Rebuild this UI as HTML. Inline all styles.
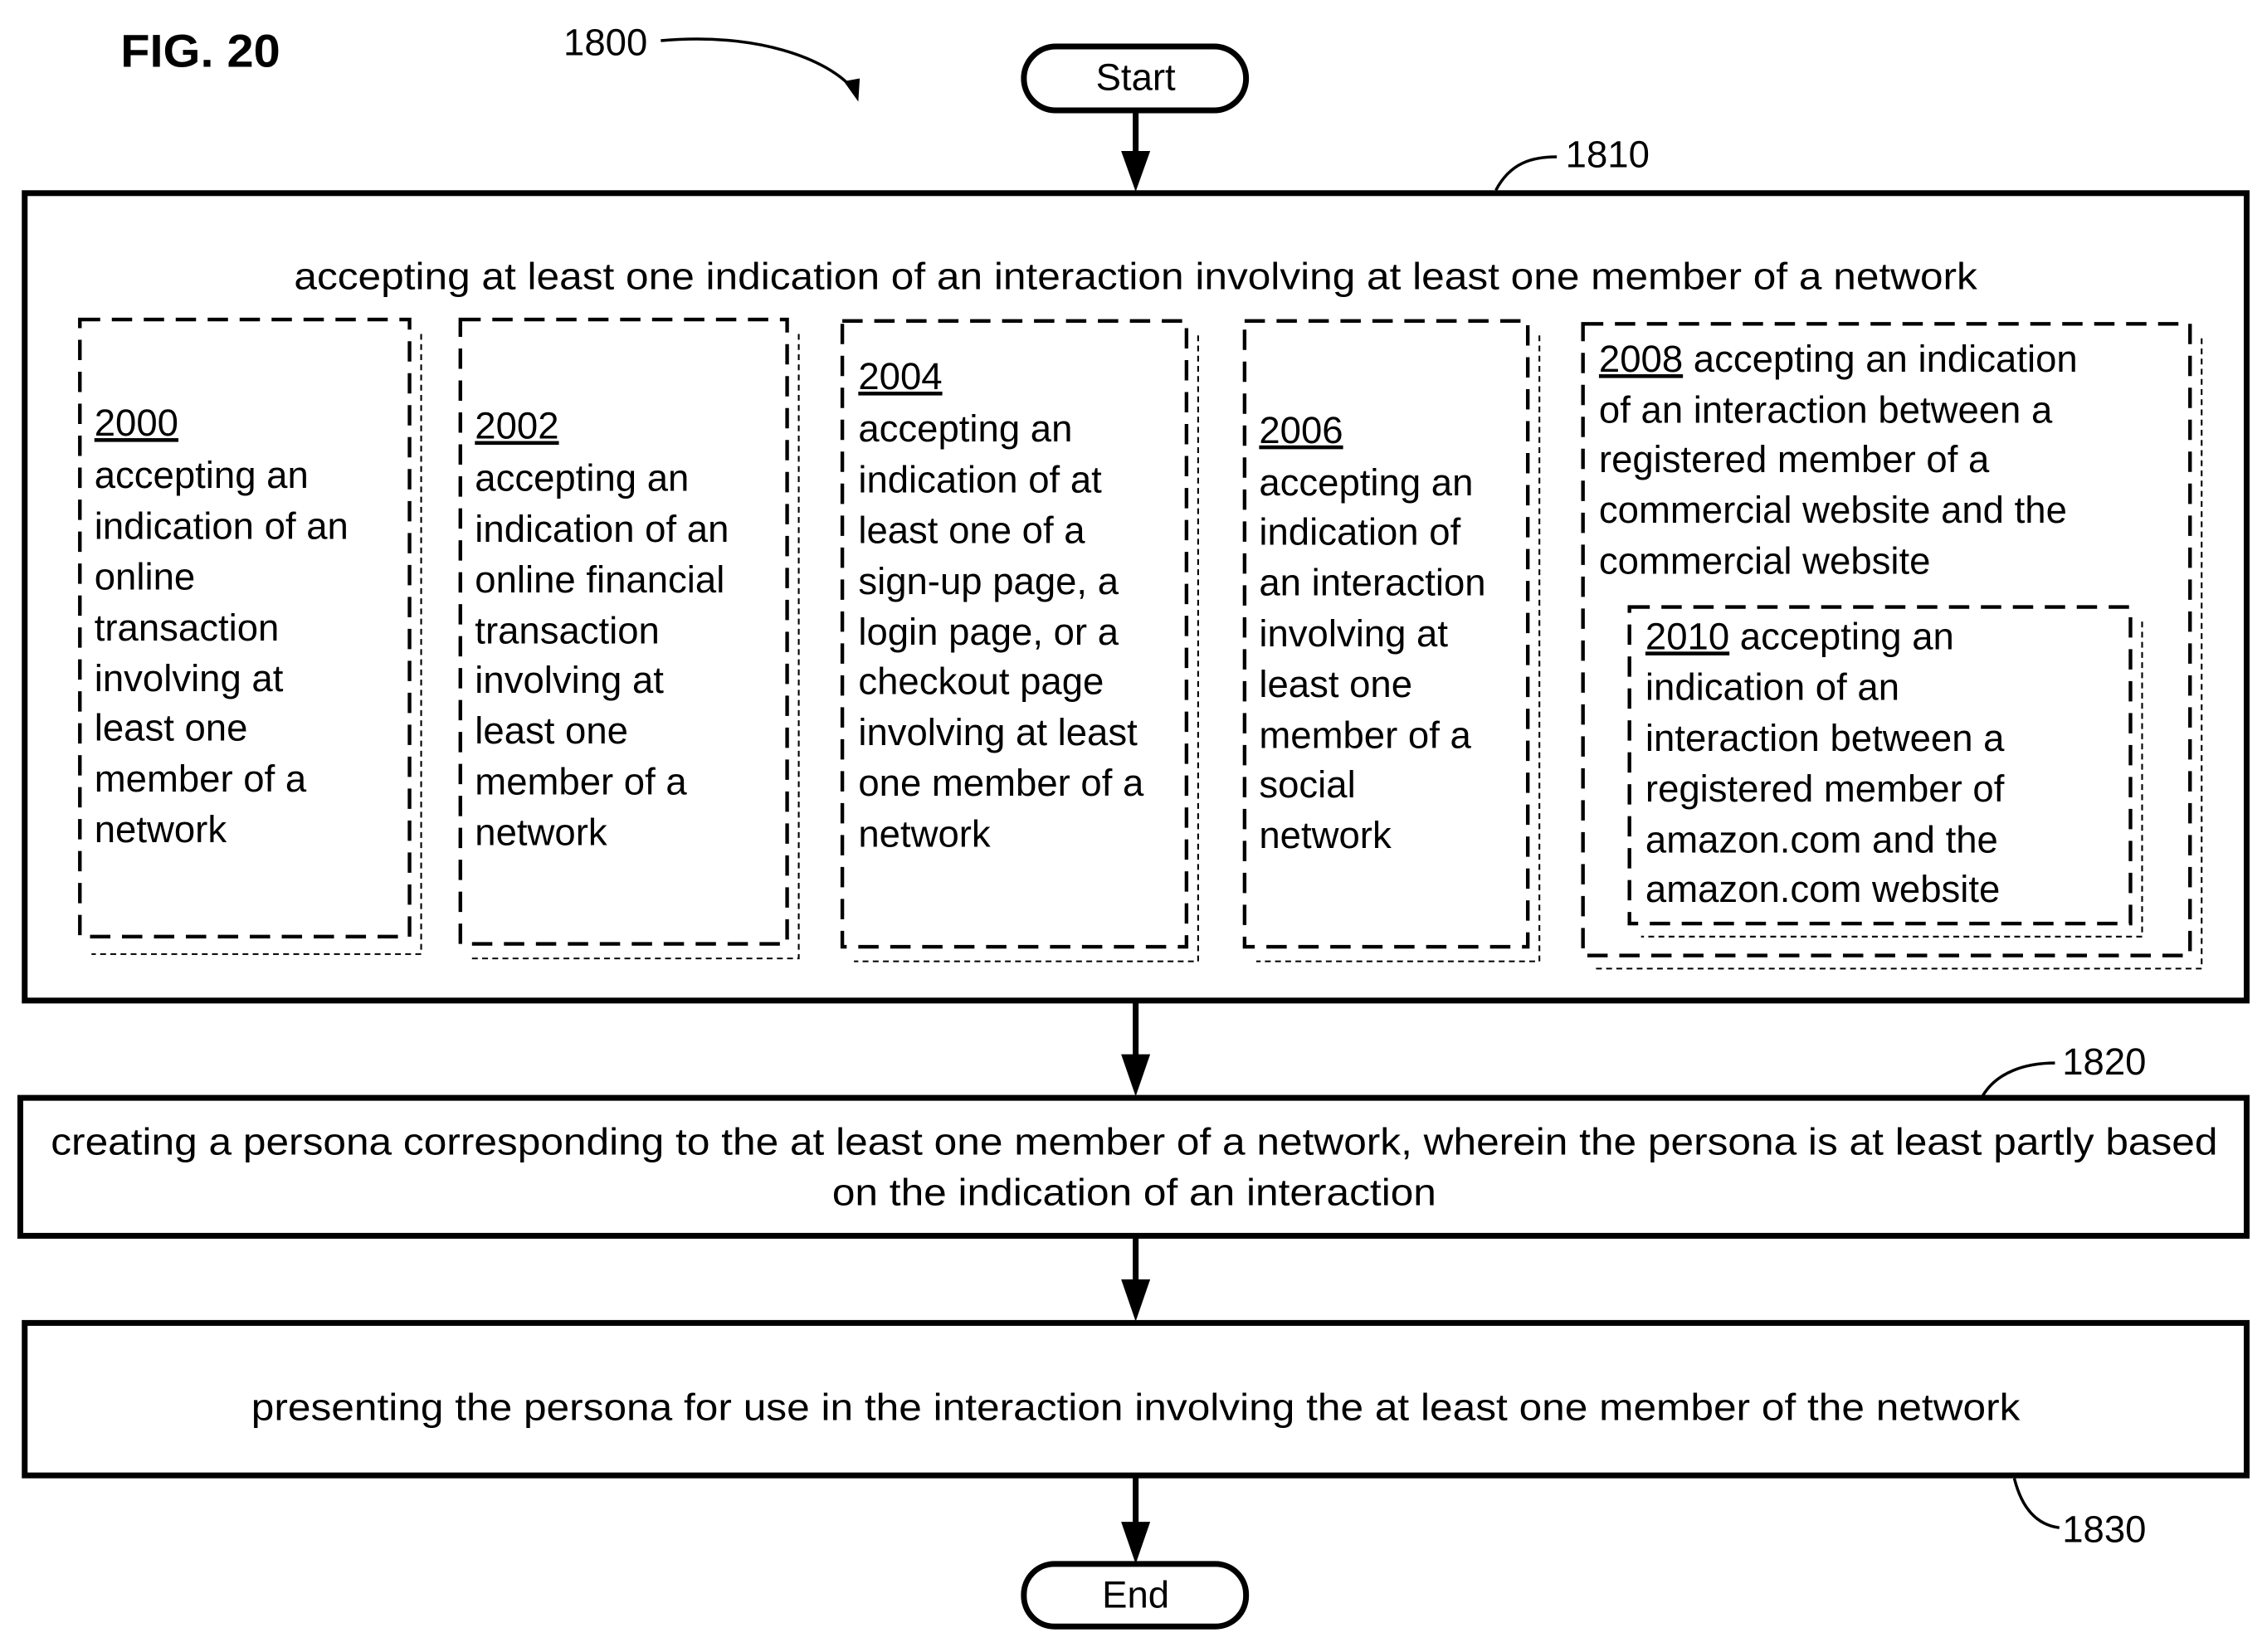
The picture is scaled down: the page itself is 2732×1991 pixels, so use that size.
<!DOCTYPE html>
<html><head><meta charset="utf-8"><style>
html,body{margin:0;padding:0;background:#fff;}
svg{display:block;}
text{font-family:"Liberation Sans",Arial,sans-serif;fill:#000;}
</style></head><body>
<svg width="2732" height="1991" viewBox="0 0 1561 1137.6" xmlns="http://www.w3.org/2000/svg">
<g font-size="26">
<text x="83" y="46" font-weight="bold" font-size="32" textLength="110" lengthAdjust="spacingAndGlyphs">FIG. 20</text>
<text x="388" y="38">1800</text>
<path d="M455,28 C520,22 570,40 588,62" fill="none" stroke="#000" stroke-width="2"/>
<path d="M581,56 L591,70 L592,54 Z" fill="#000"/>

<rect x="705" y="32" width="153" height="44" rx="22" fill="none" stroke="#000" stroke-width="4"/>
<text x="782" y="62" text-anchor="middle">Start</text>
<line x1="782" y1="76" x2="782" y2="108" stroke="#000" stroke-width="4"/>
<path d="M772,104 L792,104 L782,132 Z" fill="#000"/>

<rect x="17" y="133" width="1530" height="556" fill="none" stroke="#000" stroke-width="4"/>
<text x="1078" y="115">1810</text>
<path d="M1030,131 C1040,112 1055,108 1072,108" fill="none" stroke="#000" stroke-width="2"/>
<text x="782" y="199" text-anchor="middle" textLength="1159" lengthAdjust="spacingAndGlyphs">accepting at least one indication of an interaction involving at least one member of a network</text>

<g fill="none" stroke="#000">
<path d="M290,230 L290,657 L63,657" stroke-width="1.2" stroke-dasharray="4 3"/>
<rect x="55" y="220" width="227" height="425" stroke-width="2.5" stroke-dasharray="14 8"/>
<path d="M550,230 L550,660 L325,660" stroke-width="1.2" stroke-dasharray="4 3"/>
<rect x="317" y="220" width="225" height="430" stroke-width="2.5" stroke-dasharray="14 8"/>
<path d="M825,231 L825,662 L588,662" stroke-width="1.2" stroke-dasharray="4 3"/>
<rect x="580" y="221" width="237" height="431" stroke-width="2.5" stroke-dasharray="14 8"/>
<path d="M1060,231 L1060,662 L865,662" stroke-width="1.2" stroke-dasharray="4 3"/>
<rect x="857" y="221" width="195" height="431" stroke-width="2.5" stroke-dasharray="14 8"/>
<path d="M1516,233 L1516,667 L1098,667" stroke-width="1.2" stroke-dasharray="4 3"/>
<rect x="1090" y="223" width="418" height="435" stroke-width="2.5" stroke-dasharray="14 8"/>
<path d="M1475,428 L1475,645 L1130,645" stroke-width="1.2" stroke-dasharray="4 3"/>
<rect x="1122" y="418" width="345" height="218" stroke-width="2.5" stroke-dasharray="14 8"/>
</g>

<g>
<text x="65" y="300" text-decoration="underline">2000</text>
<text x="65" y="336">accepting an</text>
<text x="65" y="371">indication of an</text>
<text x="65" y="406">online</text>
<text x="65" y="441">transaction</text>
<text x="65" y="476">involving at</text>
<text x="65" y="510">least one</text>
<text x="65" y="545">member of a</text>
<text x="65" y="580">network</text>
</g>
<g>
<text x="327" y="302" text-decoration="underline">2002</text>
<text x="327" y="338">accepting an</text>
<text x="327" y="373">indication of an</text>
<text x="327" y="408">online financial</text>
<text x="327" y="443">transaction</text>
<text x="327" y="477">involving at</text>
<text x="327" y="512">least one</text>
<text x="327" y="547">member of a</text>
<text x="327" y="582">network</text>
</g>
<g>
<text x="591" y="268" text-decoration="underline">2004</text>
<text x="591" y="304">accepting an</text>
<text x="591" y="339">indication of at</text>
<text x="591" y="374">least one of a</text>
<text x="591" y="409">sign-up page, a</text>
<text x="591" y="444">login page, or a</text>
<text x="591" y="478">checkout page</text>
<text x="591" y="513">involving at least</text>
<text x="591" y="548">one member of a</text>
<text x="591" y="583">network</text>
</g>
<g>
<text x="867" y="305" text-decoration="underline">2006</text>
<text x="867" y="341">accepting an</text>
<text x="867" y="375">indication of</text>
<text x="867" y="410">an interaction</text>
<text x="867" y="445">involving at</text>
<text x="867" y="480">least one</text>
<text x="867" y="515">member of a</text>
<text x="867" y="549">social</text>
<text x="867" y="584">network</text>
</g>
<g>
<text x="1101" y="256"><tspan text-decoration="underline">2008</tspan>  accepting an indication</text>
<text x="1101" y="291">of an interaction between a</text>
<text x="1101" y="325">registered member of a</text>
<text x="1101" y="360">commercial website and the</text>
<text x="1101" y="395">commercial website</text>
</g>
<g>
<text x="1133" y="447"><tspan text-decoration="underline">2010</tspan>  accepting an</text>
<text x="1133" y="482">indication of an</text>
<text x="1133" y="517">interaction between a</text>
<text x="1133" y="552">registered member of</text>
<text x="1133" y="587">amazon.com and the</text>
<text x="1133" y="621">amazon.com website</text>
</g>

<line x1="782" y1="689" x2="782" y2="730" stroke="#000" stroke-width="4"/>
<path d="M772,726 L792,726 L782,755 Z" fill="#000"/>

<rect x="14" y="756" width="1533" height="95" fill="none" stroke="#000" stroke-width="4"/>
<text x="1420" y="740">1820</text>
<path d="M1365,755 C1375,738 1395,732 1415,732" fill="none" stroke="#000" stroke-width="2"/>
<text x="781" y="795" text-anchor="middle" textLength="1492" lengthAdjust="spacingAndGlyphs">creating a persona corresponding to the at least one member of a network, wherein the persona is at least partly based</text>
<text x="781" y="830" text-anchor="middle" textLength="416" lengthAdjust="spacingAndGlyphs">on the indication of an interaction</text>

<line x1="782" y1="851" x2="782" y2="885" stroke="#000" stroke-width="4"/>
<path d="M772,881 L792,881 L782,910 Z" fill="#000"/>

<rect x="17" y="911" width="1530" height="105" fill="none" stroke="#000" stroke-width="4"/>
<text x="782" y="978" text-anchor="middle" textLength="1218" lengthAdjust="spacingAndGlyphs">presenting the persona for use in the interaction involving the at least one member of the network</text>
<text x="1420" y="1062">1830</text>
<path d="M1387,1018 C1392,1038 1402,1050 1418,1052" fill="none" stroke="#000" stroke-width="2"/>

<line x1="782" y1="1016" x2="782" y2="1052" stroke="#000" stroke-width="4"/>
<path d="M772,1048 L792,1048 L782,1077 Z" fill="#000"/>

<rect x="705" y="1077" width="153" height="43" rx="21" fill="none" stroke="#000" stroke-width="4"/>
<text x="782" y="1107" text-anchor="middle">End</text>
</g>
</svg>
</body></html>
